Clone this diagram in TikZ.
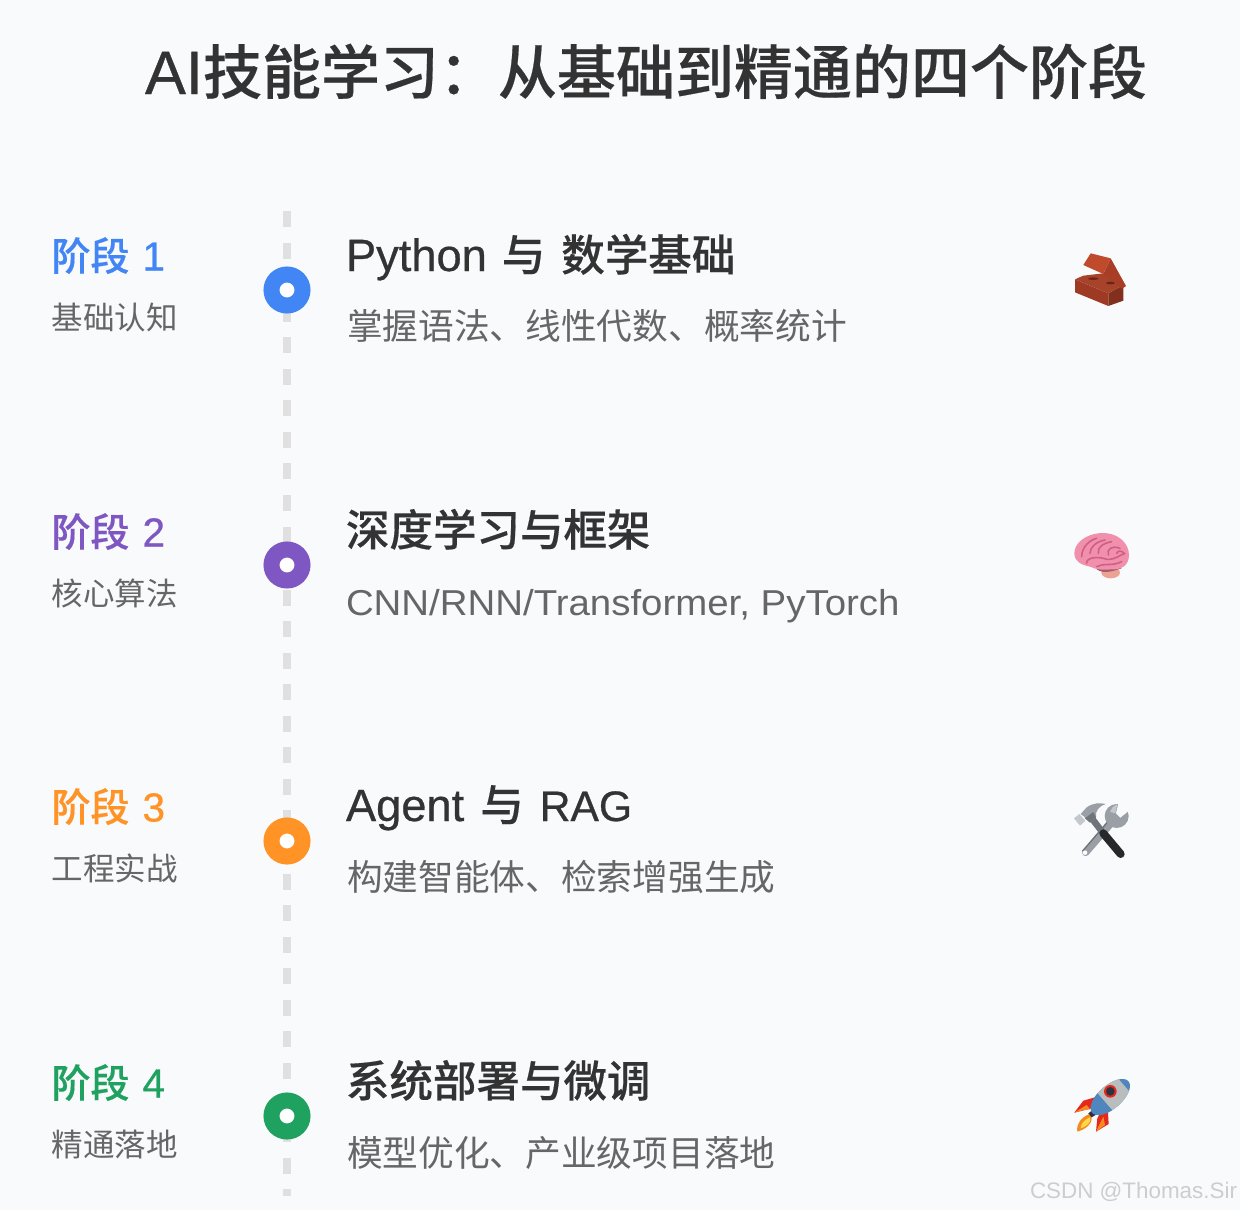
\documentclass[tikz,border=0pt]{standalone}
\usepackage{fontspec}
\setmainfont{Noto Sans CJK SC}
\newfontfamily\cjkmed[FakeBold=0.35]{Noto Sans CJK SC Medium}
\newfontfamily\cjkreg{Noto Sans CJK SC}
\newfontfamily\latmed[FakeBold=0.6,Scale=1.04]{Liberation Sans}
\newfontfamily\latnar[FakeBold=0.6,Scale=0.98]{Liberation Sans}
\newfontfamily\latreg[FakeStretch=1.067]{Liberation Sans}
\newfontfamily\latwm{Liberation Sans}
\newcommand{\fsz}[1]{\fontsize{#1}{#1}\selectfont}
\definecolor{bgc}{HTML}{F8FAFC}
\definecolor{inkd}{HTML}{333333}
\definecolor{inkg}{HTML}{666666}
\definecolor{dashc}{HTML}{E0E0E0}
\definecolor{cblue}{HTML}{4285F4}
\definecolor{cpurple}{HTML}{7E57C2}
\definecolor{corange}{HTML}{FF9326}
\definecolor{cgreen}{HTML}{1FA15F}
\definecolor{wm}{HTML}{CDCDCD}
\definecolor{brkA}{HTML}{9E3A24}
\definecolor{brkB}{HTML}{82301D}
\definecolor{brkC}{HTML}{A8432B}
\definecolor{brkD}{HTML}{BF4A2C}
\definecolor{brkE}{HTML}{A83E26}
\definecolor{brkH}{HTML}{6E2415}
\definecolor{brnA}{HTML}{F090AC}
\definecolor{brnB}{HTML}{D05F85}
\definecolor{brnC}{HTML}{EBA494}
\definecolor{brnD}{HTML}{A85A68}
\definecolor{steelA}{HTML}{9A9FA6}
\definecolor{steelB}{HTML}{6F747B}
\definecolor{steelC}{HTML}{C4C8CC}
\definecolor{gripc}{HTML}{26282B}
\definecolor{rockS}{HTML}{B9BDBE}
\definecolor{rockB}{HTML}{4F86BE}
\definecolor{rockD}{HTML}{2A3440}
\definecolor{rockR}{HTML}{E5281C}
\definecolor{rockO}{HTML}{F58A1F}
\definecolor{rockY}{HTML}{FFD84A}
\tikzset{
  x=1pt,y=1pt,
  every node/.style={inner sep=0pt,outer sep=0pt},
  titlet/.style={anchor=base west,text=inkd,font=\fsz{59}\cjkmed},
  stagelab/.style={anchor=base west,font=\fsz{39}\cjkmed},
  stagesub/.style={anchor=base west,text=inkg,font=\fsz{31.5}\cjkreg},
  headt/.style={anchor=base west,text=inkd,font=\fsz{43.5}\cjkmed},
  subt/.style={anchor=base west,text=inkg,font=\fsz{35.7}\cjkreg},
  dot/.style={circle,minimum size=31pt,line width=16pt,draw=#1,fill=white},
  spine/.style={draw=dashc,line width=8pt,dash pattern=on 16pt off 15.55pt},
  emo/.style={x=0.3333pt,y=-0.3333pt},
  gyrus/.style={draw=brnB,line width=1.6pt,line cap=round},
}
\newcommand{\dg}[1]{\hspace{13pt}{\latmed #1}}
\begin{document}
\begin{tikzpicture}
\useasboundingbox[fill=bgc] (0,0) rectangle (1240,-1210);
\node[titlet] (title) at (145,-94) {{\latmed AI}技能学习\char"FF1A 从基础到精通的四个阶段};

\coordinate (spinetop) at (287,-211);
\coordinate (spinebot) at (287,-1196);
\draw[spine] (spinetop) -- (spinebot);

% Stage 1
\node[dot=cblue] (d1) at (287,-290) {};
\node[stagelab,text=cblue] (s1) at (51.5,-270.5) {阶段\dg{1}};
\node[stagesub] (t1) at (51.5,-329.5) {基础认知};
\node[headt] (h1) at (346,-271) {{\latmed Python}\hspace{15pt}与\hspace{16pt}数学基础};
\node[subt] (b1) at (347,-339) {掌握语法、线性代数、概率统计};
% Stage 2
\node[dot=cpurple] (d2) at (287,-565) {};
\node[stagelab,text=cpurple] (s2) at (51.5,-546.5) {阶段\dg{2}};
\node[stagesub] (t2) at (51.5,-605.5) {核心算法};
\node[headt] (h2) at (346,-546) {深度学习与框架};
\node[subt,font=\fsz{36}\latreg] (b2) at (346,-615) {CNN/RNN/Transformer, PyTorch};
% Stage 3
\node[dot=corange] (d3) at (287,-841) {};
\node[stagelab,text=corange] (s3) at (51.5,-821.5) {阶段\dg{3}};
\node[stagesub] (t3) at (51.5,-880.5) {工程实战};
\node[headt] (h3) at (346,-821) {{\latmed Agent}\hspace{16pt}与\hspace{16pt}{\latnar RAG}};
\node[subt] (b3) at (347,-890) {构建智能体、检索增强生成};
% Stage 4
\node[dot=cgreen] (d4) at (287,-1116) {};
\node[stagelab,text=cgreen] (s4) at (51.5,-1097.5) {阶段\dg{4}};
\node[stagesub] (t4) at (51.5,-1156.5) {精通落地};
\node[headt] (h4) at (346,-1097) {系统部署与微调};
\node[subt] (b4) at (347,-1166) {模型优化、产业级项目落地};

\node[anchor=base east,text=wm,font=\fsz{22.4}\latwm] (wmark) at (1237,-1198.5) {CSDN @Thomas.Sir};

% Brick
\begin{scope}[shift={(1040,-230)},emo]
  \fill[brkA] (105,148)--(105,187)--(205,228)--(205,190)--cycle;
  \fill[brkB] (205,190)--(250,165)--(250,212)--(205,228)--cycle;
  \fill[brkC] (105,148)--(130,137)--(190,130)--(250,165)--(205,190)--cycle;
  \fill[brkH] (160,146) ellipse (16 and 4);
  \fill[brkH] (212,159) ellipse (14 and 4);
  \fill[brkE] (212,85)--(258,168)--(246,176)--(190,132)--cycle;
  \fill[brkD] (130,105)--(152,70)--(212,85)--(190,132)--cycle;
\end{scope}

% Brain
\begin{scope}[shift={(1040,-510)},emo]
  \fill[brnC] (212,188) ellipse (28 and 17);
  \fill[brnD] (170,178) .. controls (190,192) and (215,185) .. (245,175) -- (200,165) -- cycle;
  \fill[brnA] (103,130) .. controls (103,100) and (135,72) .. (185,69)
     .. controls (235,68) and (267,100) .. (267,135)
     .. controls (267,165) and (245,180) .. (215,178)
     .. controls (190,180) and (170,180) .. (150,170)
     .. controls (125,165) and (103,155) .. (103,130) -- cycle;
  \draw[gyrus] (125,140) .. controls (125,110) and (150,90) .. (170,85);
  \draw[gyrus] (150,130) .. controls (150,110) and (170,95) .. (195,90);
  \draw[gyrus] (175,130) .. controls (172,110) and (190,100) .. (215,95);
  \draw[gyrus] (205,135) .. controls (200,118) and (215,105) .. (240,115);
  \draw[gyrus] (140,160) .. controls (138,142) and (175,138) .. (200,148) .. controls (225,150) and (240,135) .. (255,130);
  \draw[gyrus] (170,170) .. controls (190,158) and (215,170) .. (245,155);
  \draw[gyrus] (230,130) .. controls (235,120) and (245,122) .. (252,130);
\end{scope}

% Tools
\begin{scope}[shift={(1040,-780)},emo]
  % wrench
  \draw[steelA,line width=7pt,line cap=round] (137,218) -- (222,120);
  \draw[steelB,line width=1.4pt] (127,214) -- (212,115);
  \fill[steelA] (230,108) circle (36);
  \fill[bgc] (236,66) -- (272,88) -- (241,113) -- (228,100) -- cycle;
  \fill[steelC] (210,95) .. controls (213,85) and (220,78) .. (232,73) -- (226,100) -- cycle;
  \fill[bgc] (135,218) circle (7);
  % hammer
  \draw[steelB,line width=6.5pt] (150,108) -- (190,160);
  \draw[gripc,line width=8pt,line cap=round] (190,160) -- (242,222);
  \fill[steelA] (122,102) -- (140,82) .. controls (160,68) and (180,68) .. (197,72)
     .. controls (178,78) and (165,92) .. (168,112) -- (150,128) -- (130,108) -- cycle;
  \fill[steelB] (150,128) -- (168,112) -- (160,96) -- (135,115) -- cycle;
  \fill[steelC] (102,115) -- (118,102) -- (136,122) -- (120,137) -- cycle;
\end{scope}

% Rocket
\begin{scope}[shift={(1040,-1060)},emo]
  \fill[rockO] (112,215) .. controls (108,190) and (125,172) .. (148,162)
     .. controls (165,175) and (150,205) .. (112,215) -- cycle;
  \fill[rockY] (122,205) .. controls (122,190) and (135,178) .. (150,172)
     .. controls (155,182) and (145,198) .. (122,205) -- cycle;
  \fill[rockR] (103,158) -- (130,122) -- (172,110) -- (155,145) -- (135,150) -- cycle;
  \fill[rockO] (103,158) -- (130,150) -- (150,148) -- (140,135) -- cycle;
  \fill[rockR] (168,215) -- (206,192) -- (204,158) -- (190,140) -- (172,175) -- cycle;
  \fill[rockO] (168,215) -- (180,190) -- (190,170) -- (195,195) -- cycle;
  \fill[rockD] (145,160) -- (158,150) -- (170,163) -- (155,172) -- cycle;
  \begin{scope}[shift={(211,111)},rotate=41]
    \fill[rockB] (0,0) ellipse (72 and 35);
    \begin{scope}
      \clip (0,0) ellipse (72 and 35);
      \fill[rockS] (-22,-40) rectangle (54,40);
      \fill[rockB] (-72,-40) rectangle (-22,40);
    \end{scope}
  \end{scope}
  \fill[rockR] (211,94) circle (19);
  \fill[rockD] (211,94) circle (13);
\end{scope}
\end{tikzpicture}
\end{document}
